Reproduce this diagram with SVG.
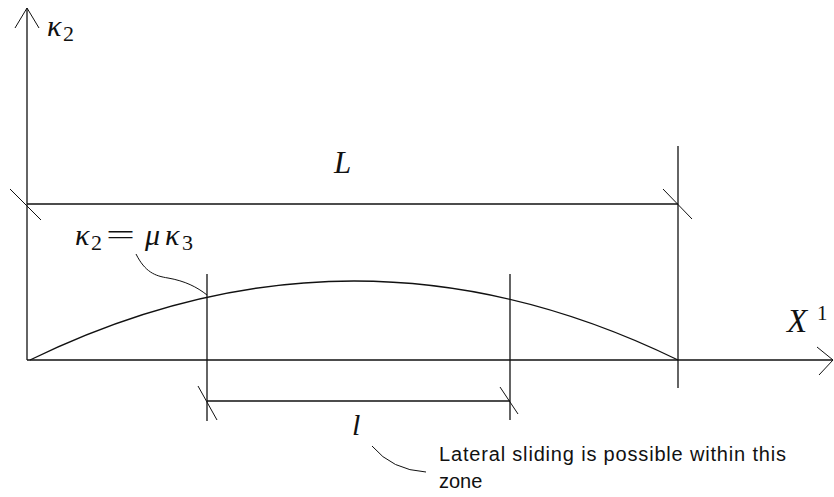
<svg xmlns="http://www.w3.org/2000/svg" width="834" height="497" viewBox="0 0 834 497">
<style>
.ln{fill:none;stroke:#111;stroke-width:1.3}
.thin{fill:none;stroke:#111;stroke-width:1}
.m{font-family:"Liberation Serif","Times New Roman",serif;fill:#111}
.it{font-style:italic}
.sans{font-family:"Liberation Sans",Arial,sans-serif;fill:#111;font-size:20px}
</style>
<rect width="834" height="497" fill="#fff"/>
<g id="axes">
<line class="ln" x1="27" y1="8" x2="27" y2="360"/>
<polyline class="thin" points="15,28 27,8 39,28"/>
<line class="ln" x1="27" y1="360" x2="833" y2="360"/>
<polyline class="thin" points="817,347 833,360 819,375"/>
</g>
<g id="curve">
<path class="ln" d="M30,360 Q354,202 678,360"/>
</g>
<g id="dimension-L">
<line class="ln" x1="27" y1="204" x2="678" y2="204"/>
<line class="ln" x1="678" y1="146" x2="678" y2="388"/>
<line class="thin" x1="10" y1="189" x2="41" y2="220"/>
<line class="thin" x1="663" y1="189" x2="692" y2="219"/>
</g>
<g id="dimension-l">
<line class="ln" x1="207" y1="274" x2="207" y2="421"/>
<line class="ln" x1="510" y1="274" x2="510" y2="420"/>
<line class="ln" x1="207" y1="401" x2="510" y2="401"/>
<line class="thin" x1="198" y1="386" x2="217" y2="420"/>
<line class="thin" x1="500" y1="387" x2="518" y2="414"/>
</g>
<g id="leaders">
<path class="thin" d="M136,254 C145,272 155,276 168,278 C185,281 197,287 207,295"/>
<path class="thin" d="M372,446 Q392,470 426,472"/>
</g>
<g id="labels">
<text class="m"><tspan class="it" x="47" y="36" font-size="30">κ</tspan><tspan x="63" y="41" font-size="22">2</tspan></text>
<text class="m"><tspan class="it" x="75" y="245" font-size="30">κ</tspan><tspan x="91" y="250" font-size="22">2</tspan></text>
<text class="m" x="106" y="244" font-size="28" textLength="29" lengthAdjust="spacingAndGlyphs">=</text>
<text class="m"><tspan class="it" x="145" y="245" font-size="30">μ</tspan><tspan class="it" x="165" y="245" font-size="30">κ</tspan><tspan x="182" y="250" font-size="22">3</tspan></text>
<text class="m it" x="334" y="173" font-size="31">L</text>
<text class="m it" x="787" y="332" font-size="33">X</text>
<text class="m" x="817" y="320" font-size="21">1</text>
<text class="m it" x="352" y="435" font-size="30">l</text>
<text class="sans" x="439" y="461" textLength="347" lengthAdjust="spacing">Lateral sliding is possible within this</text>
<text class="sans" x="439" y="488">zone</text>
</g>
</svg>
